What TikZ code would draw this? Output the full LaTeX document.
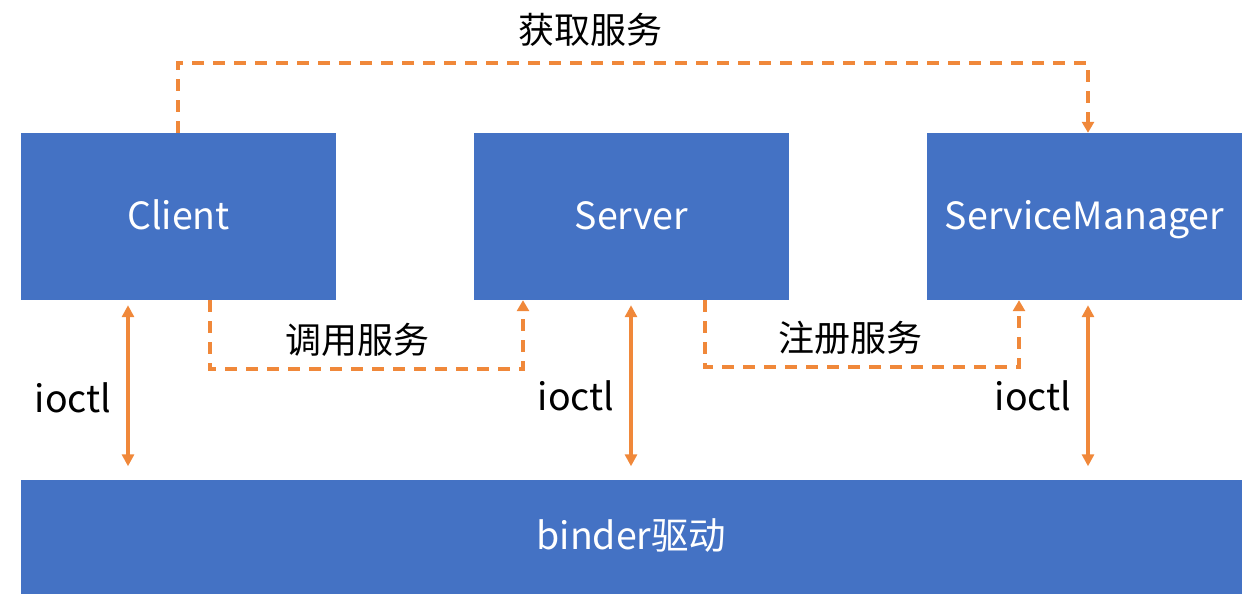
\documentclass[tikz,border=0pt]{standalone}
\usepackage{fontspec}
\setmainfont{Noto Sans CJK SC}
\usetikzlibrary{arrows.meta}
\definecolor{boxblue}{HTML}{4472C4}
\definecolor{lineorange}{HTML}{F0883A}
\begin{document}
\begin{tikzpicture}[x=1pt,y=-1pt,
  blk/.style={fill=boxblue,draw=none,inner sep=0pt,text=white,font=\fontsize{37.5}{43}\selectfont,text height=26pt,text depth=0pt},
  lbl/.style={inner sep=0pt,text=black,font=\fontsize{36}{43}\selectfont},
  iolbl/.style={inner sep=0pt,text=black,font=\fontsize{37.5}{43}\selectfont},
  dashline/.style={draw=lineorange,line width=3.2pt,dash pattern=on 12pt off 9pt,-{Triangle[width=12pt,length=11pt]}},
  ioarrow/.style={draw=lineorange,line width=3.5pt,{Triangle[width=12pt,length=12pt]}-{Triangle[width=12pt,length=12pt]}}]
\useasboundingbox (0,0) rectangle (1260,612);
\node[blk,minimum width=315pt,minimum height=167pt] (client) at (178.5,216.5) {Client};
\node[blk,minimum width=315pt,minimum height=167pt] (server) at (631.5,216.5) {Server};
\node[blk,minimum width=315pt,minimum height=167pt] (sm) at (1084.5,216.5) {ServiceManager};
\node[blk,minimum width=1221pt,minimum height=114pt] (binder) at (631.5,536.5) {binder驱动};
% top dashed
\coordinate (t1) at (178,63);
\coordinate (t2) at (1088,63);
\draw[dashline] (client.north -| t1) -- (t1) -- (t2) -- (sm.north -| t2);
\node[lbl] (lget) at (590,30) {获取服务};
% call service
\coordinate (c1) at (210,369);
\coordinate (c2) at (523,369);
\draw[dashline] (client.south -| c1) -- (c1) -- (c2) -- (server.south -| c2);
\node[lbl] (lcall) at (357,340) {调用服务};
% register service
\coordinate (r1) at (705,367);
\coordinate (r2) at (1019,367);
\draw[dashline] (server.south -| r1) -- (r1) -- (r2) -- (sm.south -| r2);
\node[lbl] (lreg) at (850,338) {注册服务};
% ioctl arrows
\coordinate (i1) at (128,0);
\coordinate (i2) at (631,0);
\coordinate (i3) at (1088,0);
\draw[ioarrow,shorten <=5pt,shorten >=13pt] (client.south -| i1) -- (binder.north -| i1);
\draw[ioarrow,shorten <=5pt,shorten >=13pt] (server.south -| i2) -- (binder.north -| i2);
\draw[ioarrow,shorten <=5pt,shorten >=13pt] (sm.south -| i3) -- (binder.north -| i3);
\node[iolbl] (io1) at (73,398) {ioctl};
\node[iolbl] (io2) at (576,396) {ioctl};
\node[iolbl] (io3) at (1033,396) {ioctl};
\end{tikzpicture}
\end{document}
